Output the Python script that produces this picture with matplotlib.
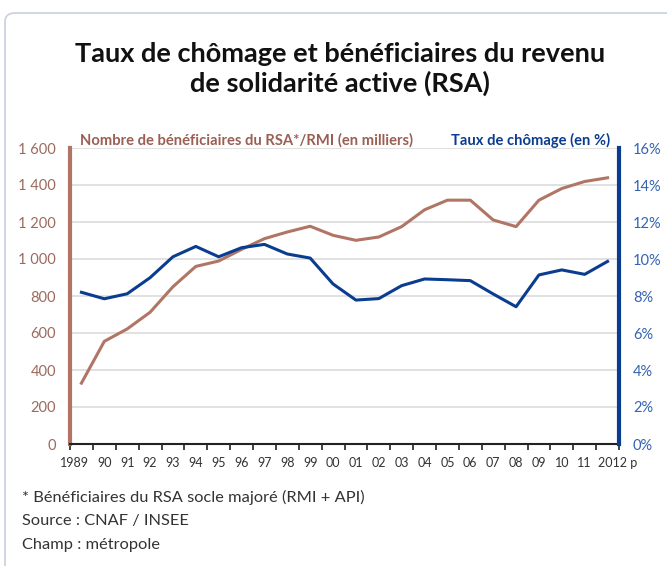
import matplotlib.pyplot as plt
from matplotlib.patches import FancyBboxPatch

years = ['1989', '90', '91', '92', '93', '94', '95', '96', '97', '98', '99', '00',
         '01', '02', '03', '04', '05', '06', '07', '08', '09', '10', '11', '2012 p']
rsa = [329, 555, 622, 712, 850, 960, 989, 1052, 1110, 1146, 1177, 1128,
       1101, 1119, 1175, 1266, 1318, 1318, 1211, 1175, 1318, 1381, 1419, 1439]
chomage = [8.2, 7.85, 8.12, 8.99, 10.12, 10.68, 10.12, 10.61, 10.79, 10.27, 10.05, 8.65,
           7.78, 7.86, 8.56, 8.92, 8.88, 8.83, 8.11, 7.42, 9.14, 9.41, 9.17, 9.87]
left_ticks = [0, 200, 400, 600, 800, 1000, 1200, 1400, 1600]
left_labels = ['0', '200', '400', '600', '800', '1 000', '1 200', '1 400', '1 600']
right_ticks = [0, 2, 4, 6, 8, 10, 12, 14, 16]

brown = '#b07565'
brown_txt = '#9c6a5d'
blue = '#0a3d8f'
blue_txt = '#3363b3'
font = 'Lato'

fig = plt.figure(figsize=(6.67, 5.66), dpi=100)

# cadre arrondi
frame = FancyBboxPatch((5 / 667, -0.1), 1.2, 1 - 13 / 566 + 0.1,
                       boxstyle='round,pad=0,rounding_size=0.015',
                       transform=fig.transFigure, fill=False,
                       edgecolor='#c9d0df', linewidth=1.2)
fig.patches.append(frame)

fig.text(0.51, 1 - 69 / 566, 'Taux de chômage et bénéficiaires du revenu\nde solidarité active (RSA)',
         ha='center', va='center', fontsize=19.5, fontweight='bold', family=font,
         linespacing=1.25, color='#111111')

ax = fig.add_axes([70 / 667, 1 - 444 / 566, 549 / 667, 296 / 566])
x = [i + 0.5 for i in range(len(years))]
ax.plot(x, rsa, color=brown, lw=2.2)
ax.set_xlim(0, len(years))
ax.set_ylim(0, 1600)
ax.set_yticks(left_ticks)
ax.set_yticklabels(left_labels)
ax.yaxis.grid(True, color='#dcdcdc', lw=1.2)
ax.set_axisbelow(True)
ax.tick_params(axis='y', length=0, pad=10, labelcolor=brown_txt, labelsize=10.5)
for lab in ax.get_yticklabels():
    lab.set_family(font)
ax.set_xticks(range(len(years) + 1))
ax.set_xticklabels([])
ax.tick_params(axis='x', which='major', length=4, width=1.2, color='#222222', direction='out')
for i, yr in enumerate(years):
    xp = x[i]
    if i == 0:
        xp = 0.2
    elif i == len(years) - 1:
        xp = 23.95
    ax.text(xp, -0.045, yr, transform=ax.get_xaxis_transform(), ha='center', va='top',
            family=font, fontsize=9, color='#333333')
ax.spines['top'].set_visible(False)
ax.spines['right'].set_visible(False)
ax.spines['left'].set_color(brown)
ax.spines['left'].set_linewidth(3)
ax.spines['bottom'].set_color('#222222')
ax.spines['bottom'].set_linewidth(1.5)

ax2 = ax.twinx()
ax2.plot(x, chomage, color=blue, lw=2.2)
ax2.set_ylim(0, 16)
ax2.set_yticks(right_ticks)
ax2.set_yticklabels([str(t) + '%' for t in right_ticks], family=font)
ax2.tick_params(axis='y', length=0, pad=10, labelcolor=blue_txt, labelsize=10.5)
ax2.spines['top'].set_visible(False)
ax2.spines['left'].set_visible(False)
ax2.spines['bottom'].set_visible(False)
ax2.spines['right'].set_color(blue)
ax2.spines['right'].set_linewidth(3)

fig.text(80 / 667, 1 - 140 / 566, 'Nombre de bénéficiaires du RSA*/RMI (en milliers)',
         ha='left', va='center', fontsize=10.6, fontweight='bold', family=font, color='#9a5f52')
fig.text(610 / 667, 1 - 140 / 566, 'Taux de chômage (en %)',
         ha='right', va='center', fontsize=10.6, fontweight='bold', family=font, color=blue)

notes = ['* Bénéficiaires du RSA socle majoré (RMI + API)', 'Source : CNAF / INSEE',
         'Champ : métropole']
for i, n in enumerate(notes):
    fig.text(22 / 667, 1 - (497 + 24 * i) / 566, n, ha='left', va='center',
             fontsize=11.8, family=font, color='#333333')

fig.savefig('out.png', dpi=100)
